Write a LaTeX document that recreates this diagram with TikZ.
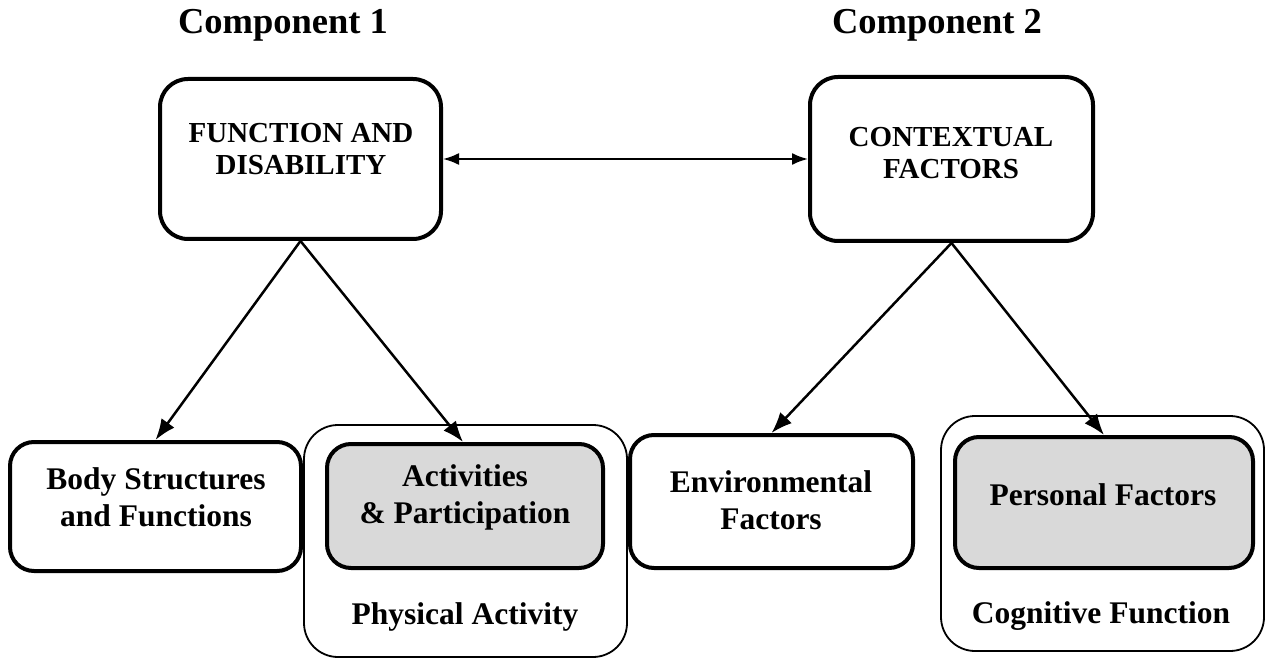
\documentclass[tikz,border=0pt]{standalone}
\usepackage{fontspec}
\setmainfont{Liberation Serif}
\usetikzlibrary{arrows.meta}
\begin{document}
\begin{tikzpicture}[x=1pt,y=-1pt,
  bigbox/.style={draw, line width=4pt, rounded corners=28pt, inner sep=0pt},
  smallbox/.style={draw, line width=4pt, rounded corners=24pt, inner sep=0pt},
  outerbox/.style={draw, line width=1.8pt, rounded corners=34pt, inner sep=0pt},
  graybox/.style={smallbox, fill=black!15},
  ttl/.style={font=\bfseries\fontsize{36.5}{40}\selectfont},
  hd/.style={font=\bfseries\fontsize{29}{32}\selectfont, align=center},
  lbl/.style={font=\bfseries\fontsize{31.5}{37}\selectfont, align=center},
  arr/.style={line width=2.5pt, -{Latex[length=21pt,width=16pt]}},
  darr/.style={line width=2pt, {Latex[length=16pt,width=12pt]}-{Latex[length=16pt,width=12pt]}}
]
\useasboundingbox (0,0) rectangle (1274,660);

% titles
\node[ttl] (c1) at (283,25) {Component 1};
\node[ttl] (c2) at (937,25) {Component 2};

% top boxes
\node[bigbox, minimum width=281pt, minimum height=160pt] (fad) at (300.5,159) {};
\node[hd] (fadt) at (301,149) {FUNCTION AND\\DISABILITY};
\node[bigbox, minimum width=283pt, minimum height=164pt] (cf) at (951.5,159) {};
\node[hd] (cft) at (951,153) {CONTEXTUAL\\FACTORS};

% outer boxes
\node[outerbox, minimum width=323pt, minimum height=232pt] (pa) at (465.5,541) {};
\node[outerbox, minimum width=323pt, minimum height=235pt] (cog) at (1102.5,533.5) {};

% bottom boxes
\node[smallbox, minimum width=291pt, minimum height=129pt] (bs) at (155.5,506.5) {};
\node[lbl] (bst) at (156,497) {Body Structures\\and Functions};
\node[graybox, minimum width=276pt, minimum height=124pt] (ap) at (465,506) {};
\node[lbl] (apt) at (465,497) {Activities\\\& Participation};
\node[smallbox, minimum width=283pt, minimum height=133pt] (env) at (771.5,501.5) {};
\node[lbl] (envt) at (771,500) {Environmental\\Factors};
\node[graybox, minimum width=298pt, minimum height=131pt] (pf) at (1104,502.5) {};
\node[lbl] (pft) at (1103,495) {Personal Factors};

\node[lbl] (pat) at (465,617) {Physical Activity};
\node[lbl] (cogt) at (1101,616) {Cognitive Function};

% connectors
\draw[darr] (fad.east) -- (cf.west);
\draw[arr] (fad.south) -- (bs.north);
\draw[arr] (fad.south) -- ([xshift=-2pt]ap.north);
\draw[arr] (cf.south) -- (env.north);
\draw[arr] (cf.south) -- (pf.north);
\end{tikzpicture}
\end{document}
